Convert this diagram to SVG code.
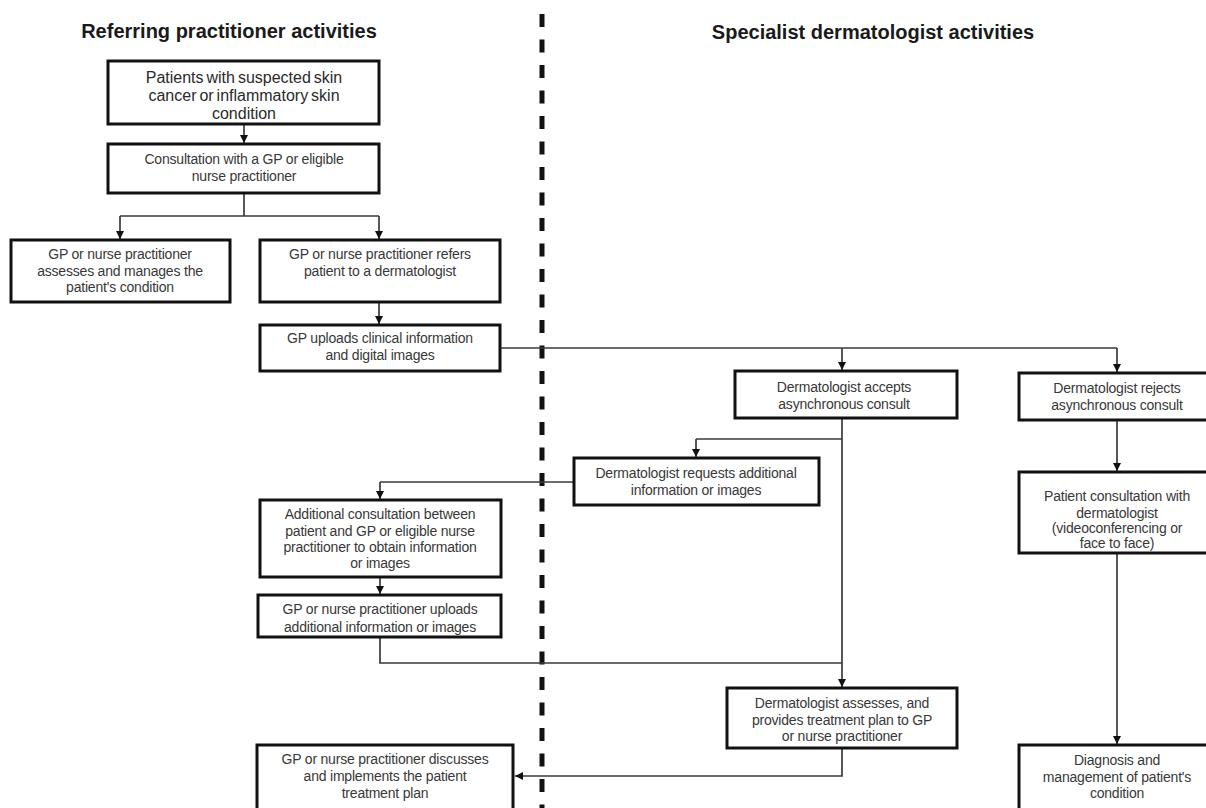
<svg xmlns="http://www.w3.org/2000/svg" width="1206" height="808" viewBox="0 0 1206 808">
<style>
.title{font-family:"Liberation Sans",Arial,sans-serif;font-weight:bold;font-size:20px;fill:#1a1a1a;text-anchor:middle}
.box{fill:#fff;stroke:#111;stroke-width:3}
.t{font-family:"Liberation Sans",Arial,sans-serif;font-size:14px;fill:#383838;text-anchor:middle;letter-spacing:-0.2px}
.t1{font-family:"Liberation Sans",Arial,sans-serif;font-size:16px;fill:#2a2a2a;text-anchor:middle;word-spacing:-1.5px}
.c{fill:none;stroke:#3a3a3a;stroke-width:1.7}
.arr{marker-end:url(#ah)}
.div{stroke:#111;stroke-width:5;stroke-dasharray:13 12.5;fill:none}
</style>
<defs>
<marker id="ah" markerUnits="userSpaceOnUse" markerWidth="9" markerHeight="9" refX="8" refY="4" orient="auto">
<path d="M0,0 L8,4 L0,8 Z" fill="#111"/>
</marker>
</defs>
<rect width="1206" height="808" fill="#fff"/>

<line class="div" x1="542" y1="14" x2="542" y2="808"/>

<text class="title" x="229" y="38">Referring practitioner activities</text>
<text class="title" x="873" y="39">Specialist dermatologist activities</text>

<g id="connectors">
<path class="c arr" d="M244,124 V143"/>
<path class="c" d="M244,193 V216 M120,216 H379"/>
<path class="c arr" d="M120,216 V239"/>
<path class="c arr" d="M379,216 V239"/>
<path class="c arr" d="M379,302 V324"/>
<path class="c" d="M500,348 H1117"/>
<path class="c arr" d="M842,348 V370"/>
<path class="c arr" d="M1117,348 V372"/>
<path class="c arr" d="M842,418 V687"/>
<path class="c" d="M842,439 H696"/>
<path class="c arr" d="M696,439 V457"/>
<path class="c" d="M574,482 H380"/>
<path class="c arr" d="M380,482 V499"/>
<path class="c arr" d="M380,577 V594"/>
<path class="c" d="M380,637 V663 H842"/>
<path class="c arr" d="M842,748 V776 H515"/>
<path class="c arr" d="M1117,420 V471"/>
<path class="c arr" d="M1117,553 V744"/>
</g>

<g id="n1">
<rect class="box" x="108" y="61" width="271" height="63"/>
<text class="t1" x="244" y="83">Patients with suspected skin</text>
<text class="t1" x="244" y="101">cancer or inflammatory skin</text>
<text class="t1" x="244" y="119">condition</text>
</g>
<g id="n2">
<rect class="box" x="108" y="144" width="271" height="49"/>
<text class="t" x="244" y="164">Consultation with a GP or eligible</text>
<text class="t" x="244" y="181">nurse practitioner</text>
</g>
<g id="n3">
<rect class="box" x="11" y="240" width="219" height="62"/>
<text class="t" x="120" y="259">GP or nurse practitioner</text>
<text class="t" x="120" y="276">assesses and manages the</text>
<text class="t" x="120" y="292">patient's condition</text>
</g>
<g id="n4">
<rect class="box" x="260" y="240" width="240" height="62"/>
<text class="t" x="380" y="259">GP or nurse practitioner refers</text>
<text class="t" x="380" y="276">patient to a dermatologist</text>
</g>
<g id="n5">
<rect class="box" x="260" y="325" width="240" height="46"/>
<text class="t" x="380" y="343">GP uploads clinical information</text>
<text class="t" x="380" y="360">and digital images</text>
</g>
<g id="n6">
<rect class="box" x="735" y="371" width="222" height="47"/>
<text class="t" x="844" y="392">Dermatologist accepts</text>
<text class="t" x="844" y="409">asynchronous consult</text>
</g>
<g id="n7">
<rect class="box" x="1019" y="373" width="197" height="47"/>
<text class="t" x="1117" y="393">Dermatologist rejects</text>
<text class="t" x="1117" y="410">asynchronous consult</text>
</g>
<g id="n8">
<rect class="box" x="574" y="458" width="245" height="47"/>
<text class="t" x="696" y="478">Dermatologist requests additional</text>
<text class="t" x="696" y="495">information or images</text>
</g>
<g id="n9">
<rect class="box" x="260" y="500" width="241" height="77"/>
<text class="t" x="380" y="519">Additional consultation between</text>
<text class="t" x="380" y="536">patient and GP or eligible nurse</text>
<text class="t" x="380" y="552">practitioner to obtain information</text>
<text class="t" x="380" y="568">or images</text>
</g>
<g id="n10">
<rect class="box" x="258" y="595" width="243" height="42"/>
<text class="t" x="380" y="614">GP or nurse practitioner uploads</text>
<text class="t" x="380" y="632">additional information or images</text>
</g>
<g id="n11">
<rect class="box" x="1019" y="472" width="197" height="81"/>
<text class="t" x="1117" y="501">Patient consultation with</text>
<text class="t" x="1117" y="518">dermatologist</text>
<text class="t" x="1117" y="533">(videoconferencing or</text>
<text class="t" x="1117" y="548">face to face)</text>
</g>
<g id="n12">
<rect class="box" x="727" y="688" width="230" height="60"/>
<text class="t" x="842" y="708">Dermatologist assesses, and</text>
<text class="t" x="842" y="725">provides treatment plan to GP</text>
<text class="t" x="842" y="741">or nurse practitioner</text>
</g>
<g id="n13">
<rect class="box" x="257" y="745" width="256" height="72"/>
<text class="t" x="385" y="764">GP or nurse practitioner discusses</text>
<text class="t" x="385" y="781">and implements the patient</text>
<text class="t" x="385" y="798">treatment plan</text>
</g>
<g id="n14">
<rect class="box" x="1019" y="745" width="197" height="72"/>
<text class="t" x="1117" y="765">Diagnosis and</text>
<text class="t" x="1117" y="782">management of patient's</text>
<text class="t" x="1117" y="798">condition</text>
</g>
</svg>
